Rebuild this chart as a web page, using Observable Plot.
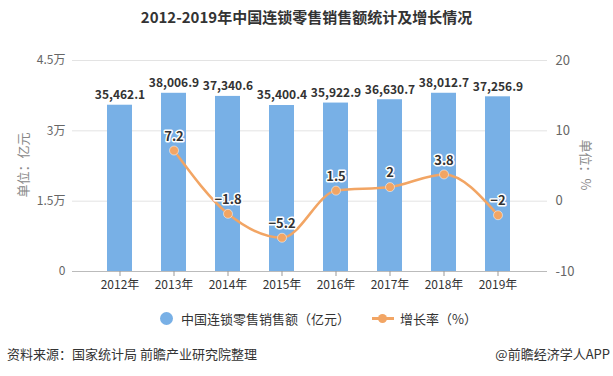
<!DOCTYPE html>
<html><head><meta charset="utf-8">
<script src="https://cdn.jsdelivr.net/npm/d3@7"></script>
<script src="https://cdn.jsdelivr.net/npm/@observablehq/plot@0.6"></script>
<style>
body{margin:0;background:#fff;font-family:"Noto Sans CJK SC","Noto Sans",sans-serif;}
#wrap{position:relative;width:613px;height:376px;overflow:hidden;}
.abs{position:absolute;white-space:nowrap;}
</style></head>
<body><div id="wrap"></div>
<script>
const years = ["2012年","2013年","2014年","2015年","2016年","2017年","2018年","2019年"];
const sales = [35462.1, 38006.9, 37340.6, 35400.4, 35922.9, 36630.7, 38012.7, 37256.9];
const growthYears = ["2013年","2014年","2015年","2016年","2017年","2018年","2019年"];
const growth = [7.2, -1.8, -5.2, 1.5, 2, 3.8, -2];
const leftTicks = [0, 15000, 30000, 45000];
const leftTickLabels = ["0", "1.5万", "3万", "4.5万"];
const rightTickLabels = ["-10", "0", "10", "20"];

const barData = years.map((y, i) => ({year: y, value: sales[i]}));
// map growth (-10..20) onto left scale (0..45000)
const toLeft = v => (v + 10) / 30 * 45000;
const lineData = growthYears.map((y, i) => ({year: y, g: growth[i], v: toLeft(growth[i])}));

const barColor = "#78B0E6";
const lineColor = "#F2A564";

const chart = Plot.plot({
  width: 613, height: 376,
  marginTop: 60, marginBottom: 105, marginLeft: 72, marginRight: 66,
  style: {fontFamily: '"Noto Sans CJK SC","Noto Sans",sans-serif', fontSize: "12px", background: "transparent"},
  x: {domain: years, padding: 0.53, insetLeft: 6, insetRight: 8},
  y: {domain: [0, 45000]},
  marks: [
    Plot.ruleY(leftTicks.slice(1), {stroke: "#e3e3e3", strokeWidth: 1}),
    Plot.barY(barData, {x: "year", y: "value", fill: barColor}),
    Plot.ruleY([0], {stroke: "#bbb"}),
    Plot.axisX({tickSize: 5, tickPadding: 4, stroke: "#999", color: "#333", fontSize: 12, label: null}),
    Plot.axisY({ticks: leftTicks, tickFormat: (d, i) => leftTickLabels[i], tickSize: 0, tickPadding: 7, color: "#666", fontSize: 12, label: null}),
    Plot.axisY({anchor: "right", ticks: leftTicks, tickFormat: (d, i) => rightTickLabels[i], tickSize: 0, tickPadding: 8, color: "#666", fontSize: 13, label: null}),
    Plot.text(barData, {x: "year", y: "value", text: d => d3.format(",.1f")(d.value), dy: -10, fill: "#333", fontWeight: "bold", fontSize: 12}),
    Plot.line(lineData, {x: "year", y: "v", stroke: lineColor, strokeWidth: 2.5, curve: "monotone-x"}),
    Plot.dot(lineData, {x: "year", y: "v", r: 4.5, fill: lineColor, stroke: "#fff", strokeWidth: 0.5}),
    Plot.text(lineData, {x: "year", y: "v", text: d => String(d.g).replace("-", "−"), dy: -14, fill: "#333", stroke: "#fff", strokeWidth: 3, fontWeight: "bold", fontSize: 13})
  ]
});

const wrap = document.getElementById("wrap");
chart.style.position = "absolute";
chart.style.left = "0px"; chart.style.top = "0px";
wrap.appendChild(chart);

function addText(txt, css) {
  const d = document.createElement("div");
  d.className = "abs";
  d.textContent = txt;
  Object.assign(d.style, css);
  wrap.appendChild(d);
  return d;
}
addText("2012-2019年中国连锁零售销售额统计及增长情况", {left: "0", width: "613px", textAlign: "center", top: "6px", fontSize: "15px", fontWeight: "bold", color: "#333"});
addText("单位：亿元", {left: "22px", top: "165px", fontSize: "13px", color: "#888", transform: "translate(-50%,-50%) rotate(-90deg)"});
addText("单位：%", {left: "586px", top: "165px", fontSize: "13px", color: "#888", transform: "translate(-50%,-50%) rotate(90deg)"});

// legend
const leg = document.createElement("div");
leg.className = "abs";
Object.assign(leg.style, {left: "160px", top: "309px", fontSize: "13px", color: "#333", display: "flex", alignItems: "center"});
leg.innerHTML = `<span style="display:inline-block;width:13px;height:13px;border-radius:50%;background:${barColor};margin-right:8px"></span>` +
  `<span>中国连锁零售销售额（亿元）</span>` +
  `<span style="display:inline-block;position:relative;width:22px;height:13px;margin-left:22px;margin-right:6px">` +
  `<span style="position:absolute;left:0;top:5px;width:22px;height:2.5px;background:${lineColor}"></span>` +
  `<span style="position:absolute;left:6px;top:1.5px;width:9px;height:9px;border-radius:50%;background:${lineColor}"></span></span>` +
  `<span>增长率（%）</span>`;
wrap.appendChild(leg);

addText("资料来源：国家统计局 前瞻产业研究院整理", {left: "7px", top: "344px", fontSize: "13px", color: "#333"});
addText("@前瞻经济学人APP", {right: "3px", top: "344px", fontSize: "13px", color: "#333"});
</script></body></html>
